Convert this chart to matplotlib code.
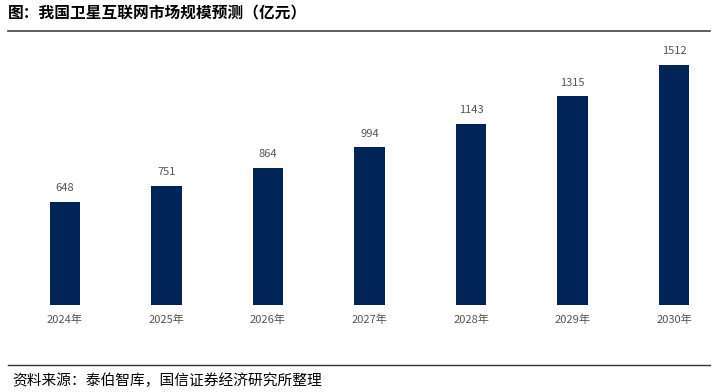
import matplotlib
matplotlib.use("Agg")
import matplotlib.pyplot as plt
from matplotlib.lines import Line2D

plt.rcParams['font.family'] = ['Noto Sans CJK SC', 'DejaVu Sans']

years = ["2024年", "2025年", "2026年", "2027年", "2028年", "2029年", "2030年"]
values = [648, 751, 864, 994, 1143, 1315, 1512]

W, H = 713, 392
fig = plt.figure(figsize=(W / 100, H / 100), dpi=100)

# axes placed in pixel terms: bars bottom at y=305, top of axes at y=40
ax = fig.add_axes([0, (H - 305) / H, 1, (305 - 40) / H])
xs = list(range(len(years)))
ax.bar(xs, values, width=0.296, color="#002457")
ax.set_xlim((0 - 65) / 101.5, (W - 65) / 101.5)
ax.set_ylim(0, 265 / 0.1587)
for x, v in zip(xs, values):
    ax.text(x, v + 55, str(v), ha="center", va="bottom", fontsize=8, color="#555555")
ax.set_xticks(xs)
ax.set_xticklabels(years, fontsize=8, color="#555555")
ax.tick_params(axis="x", length=0, pad=7)
ax.set_yticks([])
for s in ax.spines.values():
    s.set_visible(False)

fig.text(8 / W, 1 - 13 / H, "图：我国卫星互联网市场规模预测（亿元）", fontsize=11.3,
         fontweight="bold", va="center", ha="left")
fig.add_artist(Line2D([8 / W, 710 / W], [1 - 31 / H, 1 - 31 / H], color="#444444", lw=1.2))
fig.add_artist(Line2D([8 / W, 710 / W], [1 - 365 / H, 1 - 365 / H], color="#333333", lw=1.0))
fig.text(12 / W, 1 - 381 / H, "资料来源：泰伯智库，国信证券经济研究所整理", fontsize=10.6,
         va="center", ha="left")

fig.savefig("out.png", dpi=100)
